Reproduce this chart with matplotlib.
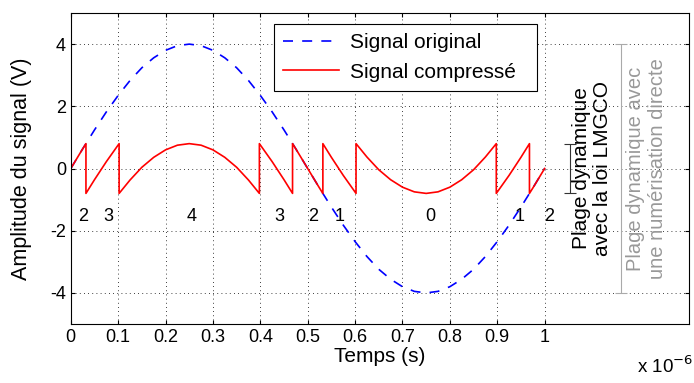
import matplotlib
matplotlib.use("Agg")
import matplotlib.pyplot as plt

plt.rcParams["font.family"] = ["Liberation Sans", "DejaVu Sans"]
plt.rcParams["axes.unicode_minus"] = False

# temps en unites de 1e-6 s
t_orig = [0, 0.025, 0.05, 0.075, 0.1, 0.125, 0.15, 0.175, 0.2, 0.225, 0.25,
          0.275, 0.3, 0.325, 0.35, 0.375, 0.4, 0.425, 0.45, 0.475, 0.5,
          0.525, 0.55, 0.575, 0.6, 0.625, 0.65, 0.675, 0.7, 0.725, 0.75,
          0.775, 0.8, 0.825, 0.85, 0.875, 0.9, 0.925, 0.95, 0.975, 1.0]
v_orig = [0, 0.63, 1.24, 1.82, 2.35, 2.83, 3.24, 3.56, 3.80, 3.95, 4.00,
          3.95, 3.80, 3.56, 3.24, 2.83, 2.35, 1.82, 1.24, 0.63, 0,
          -0.63, -1.24, -1.82, -2.35, -2.83, -3.24, -3.56, -3.80, -3.95, -4.00,
          -3.95, -3.80, -3.56, -3.24, -2.83, -2.35, -1.82, -1.24, -0.63, 0]

t_comp = [0, 0.025, 0.032, 0.032, 0.05, 0.075, 0.102, 0.102, 0.125, 0.15,
          0.175, 0.2, 0.225, 0.25, 0.275, 0.3, 0.325, 0.35, 0.375, 0.398,
          0.398, 0.425, 0.45, 0.468, 0.468, 0.475, 0.5, 0.525, 0.532, 0.532,
          0.55, 0.575, 0.602, 0.602, 0.625, 0.65, 0.675, 0.7, 0.725, 0.75,
          0.775, 0.8, 0.825, 0.85, 0.875, 0.898, 0.898, 0.925, 0.95, 0.968,
          0.968, 0.975, 1.0]
v_comp = [0, 0.63, 0.8, -0.8, -0.36, 0.22, 0.8, -0.8, -0.37, 0.04,
          0.36, 0.60, 0.75, 0.80, 0.75, 0.60, 0.36, 0.04, -0.37, -0.8,
          0.8, 0.22, -0.36, -0.8, 0.8, 0.63, 0, -0.63, -0.8, 0.8,
          0.36, -0.22, -0.8, 0.8, 0.37, -0.04, -0.36, -0.60, -0.75, -0.80,
          -0.75, -0.60, -0.36, -0.04, 0.37, 0.8, -0.8, -0.22, 0.36, 0.8,
          -0.8, -0.63, 0]

seg_labels = ["2", "3", "4", "3", "2", "1", "0", "1", "2"]
seg_label_t = [0.025, 0.08, 0.256, 0.44, 0.512, 0.568, 0.758, 0.947, 1.01]

fig = plt.figure(figsize=(6.94, 3.83), dpi=100)
ax = fig.add_axes([0.102, 0.154, 0.891, 0.812])

ax.plot(t_orig, v_orig, color="blue", ls=(0, (6, 5.5)), lw=1.2, label="Signal original")
ax.plot(t_comp, v_comp, color="red", lw=1.2, label="Signal compressé")

for lab, tx in zip(seg_labels, seg_label_t):
    ax.text(tx, -1.55, lab, ha="center", va="center", fontsize=13)

# plages dynamiques
ax.errorbar([1.053], [0], yerr=[[0.8], [0.8]], color="#333333", capsize=4, lw=0.8, capthick=0.8)
ax.text(1.1, 0, "Plage dynamique\navec la loi LMGCO", rotation=90,
        ha="center", va="center", fontsize=15, color="black", linespacing=1.15)
ax.errorbar([1.162], [0], yerr=[[4], [4]], color="#aaaaaa", capsize=4, lw=0.8, capthick=0.8)
ax.text(1.215, 0, "Plage dynamique avec\nune numérisation directe", rotation=90,
        ha="center", va="center", fontsize=14.5, color="#999999", linespacing=1.15)

ax.set_xlim(0, 1.305)
ax.set_ylim(-5, 5)
ax.set_xticks([0, 0.1, 0.2, 0.3, 0.4, 0.5, 0.6, 0.7, 0.8, 0.9, 1])
ax.set_xticklabels(["0", "0.1", "0.2", "0.3", "0.4", "0.5", "0.6", "0.7", "0.8", "0.9", "1"])
ax.set_yticks([-4, -2, 0, 2, 4])
ax.tick_params(direction="in", top=True, right=True, labelsize=13, length=3)
ax.grid(True, ls=(0, (1, 4)), color="black", lw=0.6)
for s in ax.spines.values():
    s.set_linewidth(0.8)

ax.set_xlabel("Temps (s)", fontsize=15, labelpad=1)
ax.set_ylabel("Amplitude du signal (V)", fontsize=15.5, labelpad=13)

leg = ax.legend(loc="upper left", bbox_to_anchor=(0.328, 0.0, 0.4256, 0.965),
                mode="expand", borderaxespad=0,
                fontsize=15, fancybox=False, framealpha=1, edgecolor="black",
                handlelength=2.7, handletextpad=0.5, borderpad=0.45, labelspacing=0.5)
leg.get_frame().set_linewidth(0.8)

fig.text(0.958, 0.015, "x 10$^{-6}$", fontsize=13.5, ha="center", va="bottom")

fig.savefig("out.png", dpi=100)
